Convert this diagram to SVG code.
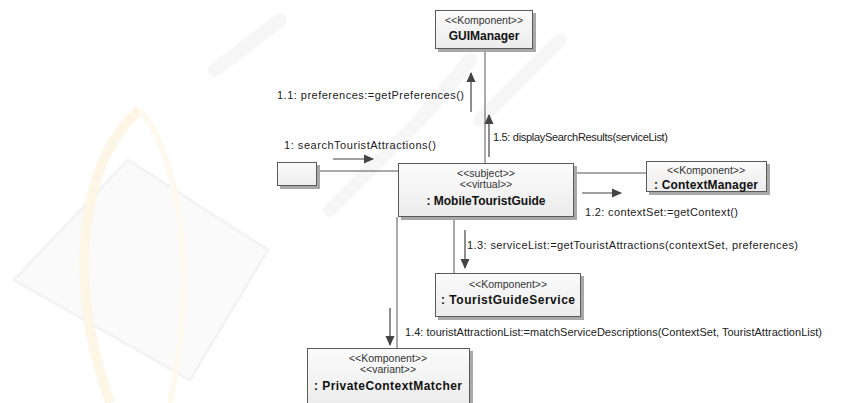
<svg xmlns="http://www.w3.org/2000/svg" width="850" height="403" viewBox="0 0 850 403">
  <style>
    .box { fill: url(#boxFill); stroke: #5a5a5a; stroke-width: 1; }
    .shadow { fill: #a8a8a8; }
    .link { stroke: #555; stroke-width: 1; fill: none; }
    .msg { stroke: #444; stroke-width: 1.2; fill: none; marker-end: url(#head); }
    .st { font-family: "Liberation Sans", Arial, sans-serif; font-size: 10.5px; fill: #333; text-anchor: middle; }
    .nm { font-family: "Liberation Sans", Arial, sans-serif; font-size: 12px; font-weight: bold; fill: #111; text-anchor: middle; }
    .lb { font-family: "Liberation Sans", Arial, sans-serif; font-size: 11px; fill: #222; }
    .wm { fill: none; stroke: #f6f6f6; stroke-width: 14; stroke-linecap: round; }
  </style>
  <defs>
    <linearGradient id="boxFill" x1="0" y1="0" x2="0" y2="1">
      <stop offset="0" stop-color="#fbfbfb"/>
      <stop offset="1" stop-color="#ececec"/>
    </linearGradient>
    <marker id="head" viewBox="0 0 10 10" refX="9" refY="5" markerWidth="10" markerHeight="10" markerUnits="userSpaceOnUse" orient="auto">
      <path d="M0,0.5 L10,5 L0,9.5 Z" fill="#444"/>
    </marker>
  </defs>

  <rect width="850" height="403" fill="#ffffff"/>

  <!-- faint background emblem -->
  <g id="backdrop">
    <path d="M128,160 L268,250 L190,380 L14,280 Z" fill="#fafafa" stroke="#f3f3f3" stroke-width="3"/>
    <path d="M140,110 C90,150 60,260 110,403" fill="none" stroke="#fdf6e6" stroke-width="10"/>
    <path d="M140,110 C175,150 200,260 170,403" fill="none" stroke="#fef9ee" stroke-width="6"/>
    <path class="wm" d="M215,70 L280,20"/>
    <path class="wm" d="M330,210 L420,120 L470,60"/>
    <path class="wm" d="M480,120 L560,40"/>
  </g>

  <!-- links between objects -->
  <g id="connectors">
    <line class="link" x1="485" y1="49" x2="485" y2="163"/>
    <line class="link" x1="317" y1="171" x2="398" y2="171"/>
    <line class="link" x1="574" y1="173" x2="646" y2="173"/>
    <line class="link" x1="454" y1="217" x2="454" y2="273"/>
    <line class="link" x1="397" y1="217" x2="397" y2="348"/>

    <!-- messages -->
    <line class="msg" x1="333" y1="159" x2="373" y2="159"/>
    <text class="lb" x="284" y="149" textLength="152" lengthAdjust="spacing">1: searchTouristAttractions()</text>

    <line class="msg" x1="471" y1="112" x2="471" y2="73"/>
    <text class="lb" x="277" y="99" textLength="187" lengthAdjust="spacing">1.1: preferences:=getPreferences()</text>

    <line class="msg" x1="582" y1="193" x2="621" y2="193"/>
    <text class="lb" x="585" y="216" textLength="153" lengthAdjust="spacing">1.2: contextSet:=getContext()</text>

    <line class="msg" x1="465" y1="230" x2="465" y2="268"/>
    <text class="lb" x="467" y="249" textLength="331" lengthAdjust="spacing">1.3: serviceList:=getTouristAttractions(contextSet, preferences)</text>

    <line class="msg" x1="390" y1="308" x2="390" y2="345"/>
    <text class="lb" x="405" y="336" textLength="417" lengthAdjust="spacing">1.4: touristAttractionList:=matchServiceDescriptions(ContextSet, TouristAttractionList)</text>

    <line class="msg" x1="489" y1="157" x2="489" y2="115"/>
    <text class="lb" x="493" y="141" textLength="175" lengthAdjust="spacing">1.5: displaySearchResults(serviceList)</text>
  </g>

  <g id="actor">
    <rect class="shadow" x="280" y="165" width="40" height="24"/>
    <rect class="box" x="277.5" y="162.5" width="39" height="23"/>
  </g>

  <g id="guiManager">
    <rect class="shadow" x="438" y="13" width="98" height="39"/>
    <rect class="box" x="435.5" y="10.5" width="97" height="38"/>
    <text class="st" x="484" y="24">&lt;&lt;Komponent&gt;&gt;</text>
    <text class="nm" x="484" y="40">GUIManager</text>
  </g>

  <g id="mobileTouristGuide">
    <rect class="shadow" x="401" y="166" width="176" height="54"/>
    <rect class="box" x="398.5" y="163.5" width="175" height="53"/>
    <text class="st" x="486" y="177">&lt;&lt;subject&gt;&gt;</text>
    <text class="st" x="486" y="188">&lt;&lt;virtual&gt;&gt;</text>
    <text class="nm" x="486" y="205">: MobileTouristGuide</text>
  </g>

  <g id="contextManager">
    <rect class="shadow" x="649" y="164" width="121" height="31"/>
    <rect class="box" x="646.5" y="161.5" width="120" height="30"/>
    <text class="st" x="706" y="174">&lt;&lt;Komponent&gt;&gt;</text>
    <text class="nm" x="706" y="189" textLength="104" lengthAdjust="spacing">: ContextManager</text>
  </g>

  <g id="touristGuideService">
    <rect class="shadow" x="438" y="276" width="146" height="44"/>
    <rect class="box" x="435.5" y="273.5" width="145" height="43"/>
    <text class="st" x="508" y="288">&lt;&lt;Komponent&gt;&gt;</text>
    <text class="nm" x="508" y="304" textLength="134" lengthAdjust="spacing">: TouristGuideService</text>
  </g>

  <g id="privateContextMatcher">
    <rect class="shadow" x="310" y="351" width="163" height="55"/>
    <rect class="box" x="307.5" y="348.5" width="162" height="56"/>
    <text class="st" x="388" y="362">&lt;&lt;Komponent&gt;&gt;</text>
    <text class="st" x="388" y="373">&lt;&lt;variant&gt;&gt;</text>
    <text class="nm" x="388" y="390" textLength="148" lengthAdjust="spacing">: PrivateContextMatcher</text>
  </g>
</svg>
